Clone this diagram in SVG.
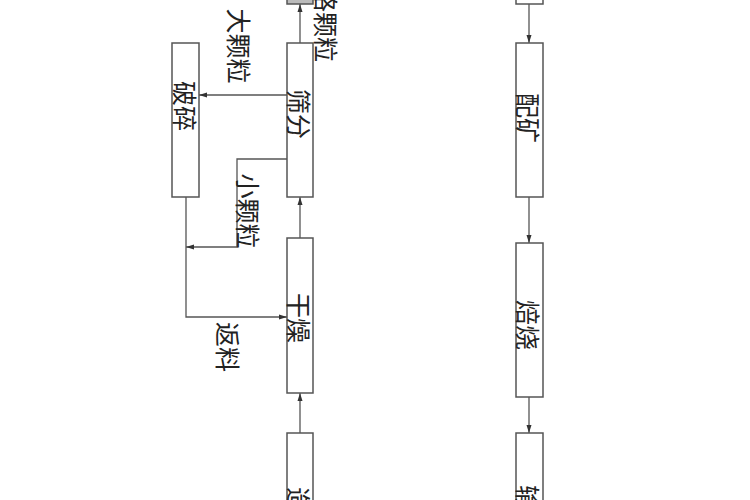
<svg xmlns="http://www.w3.org/2000/svg" width="750" height="500" viewBox="0 0 750 500">
<style>
.box{fill:#fff;stroke:#555;stroke-width:1.5}
.ln{fill:none;stroke:#555;stroke-width:1.3}
.t{font-family:"Noto Sans CJK SC","Noto Sans CJK TC",sans-serif;font-size:25px;font-weight:400;fill:#222;text-anchor:middle;dominant-baseline:central}
</style>
<defs>
<marker id="ah" markerWidth="8" markerHeight="6" refX="8" refY="3" orient="auto" markerUnits="userSpaceOnUse">
<path d="M0,0.5 L8,3 L0,5.5 Z" fill="#333"/>
</marker>
</defs>
<rect width="750" height="500" fill="#fff"/>
<g id="connectors">
<path class="ln" d="M300,43 L300,4" marker-end="url(#ah)"/>
<path class="ln" d="M287,95 L199,95" marker-end="url(#ah)"/>
<path class="ln" d="M287,159 L237,159 L237,247 L186,247" marker-end="url(#ah)"/>
<path class="ln" d="M186,197 L186,317 L287,317" marker-end="url(#ah)"/>
<path class="ln" d="M300,238 L300,197" marker-end="url(#ah)"/>
<path class="ln" d="M300,433 L300,393" marker-end="url(#ah)"/>
<path class="ln" d="M529,4 L529,43" marker-end="url(#ah)"/>
<path class="ln" d="M529,197 L529,243" marker-end="url(#ah)"/>
<path class="ln" d="M529,397 L529,433" marker-end="url(#ah)"/>
</g>
<g id="node-top-left"><rect class="box" x="287" y="-40" width="26" height="44" style="fill:#bbb"/></g>
<g id="node-top-right"><rect class="box" x="516" y="-40" width="27" height="44"/></g>
<g id="node-shaifen"><rect class="box" x="287" y="43" width="26" height="154"/><text class="t" transform="translate(300,114) rotate(90)">筛分</text></g>
<g id="node-posui"><rect class="box" x="172" y="43" width="27" height="154"/><text class="t" transform="translate(186,106) rotate(90)">破碎</text></g>
<g id="node-ganzao"><rect class="box" x="287" y="238" width="26" height="155"/><text class="t" transform="translate(300,318) rotate(90)">干燥</text></g>
<g id="node-zaoqiu"><rect class="box" x="287" y="433" width="26" height="90"/><text class="t" transform="translate(300,512) rotate(90)">造球</text></g>
<g id="node-peikuang"><rect class="box" x="516" y="43" width="27" height="154"/><text class="t" transform="translate(529,118) rotate(90)">配矿</text></g>
<g id="node-beishao"><rect class="box" x="516" y="243" width="27" height="154"/><text class="t" transform="translate(529,325) rotate(90)">焙烧</text></g>
<g id="node-shusong"><rect class="box" x="516" y="433" width="27" height="90"/><text class="t" transform="translate(529,510) rotate(90)">输送</text></g>
<g id="labels">
<text class="t" transform="translate(327,12) rotate(90)">合格颗粒</text>
<text class="t" transform="translate(240,46) rotate(90)">大颗粒</text>
<text class="t" transform="translate(249,211) rotate(90)">小颗粒</text>
<text class="t" transform="translate(229,347) rotate(90)">返料</text>
</g>
</svg>
